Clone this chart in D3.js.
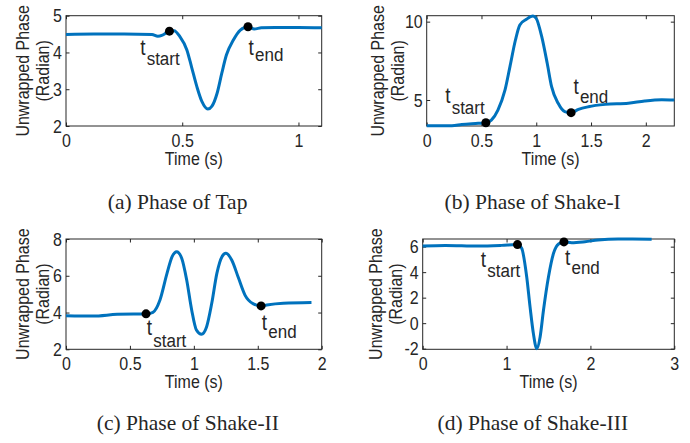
<!DOCTYPE html>
<html>
<head>
<meta charset="utf-8">
<script src="https://cdn.jsdelivr.net/npm/d3@7"></script>
<style>
  body { margin: 0; background: #fff; }
  svg text { fill: #262626; }
</style>
</head>
<body>
<div id="box"></div>
<script>
// ---- data ----
// (a) Tap
var tapTime  = [0, 0.12, 0.25, 0.37, 0.395, 0.415, 0.445, 0.465, 0.49, 0.52, 0.54, 0.563, 0.585, 0.61, 0.628, 0.65, 0.67, 0.69, 0.72, 0.75, 0.783, 0.81, 0.84, 0.9, 1.0, 1.1];
var tapPhase = [4.49, 4.50, 4.50, 4.49, 4.44, 4.47, 4.58, 4.59, 4.43, 4.07, 3.61, 3.07, 2.66, 2.46, 2.54, 2.89, 3.43, 3.93, 4.34, 4.61, 4.70, 4.64, 4.67, 4.68, 4.68, 4.67];
var tapMarks = [[0.445, 4.58], [0.783, 4.70]];

// (b) Shake-I
var shake1Time  = [0, 0.23, 0.32, 0.47, 0.54, 0.59, 0.65, 0.715, 0.76, 0.81, 0.85, 0.91, 0.97, 1.0, 1.05, 1.1, 1.14, 1.2, 1.26, 1.318, 1.385, 1.476, 1.63, 1.84, 1.99, 2.146, 2.26];
var shake1Phase = [3.36, 3.36, 3.43, 3.51, 3.55, 3.72, 4.36, 5.64, 7.13, 8.83, 9.79, 10.15, 10.36, 10.2, 9.04, 7.34, 5.85, 4.79, 4.26, 4.19, 4.40, 4.57, 4.72, 4.79, 4.94, 5.02, 5.0];
var shake1Marks = [[0.54, 3.55], [1.318, 4.19]];

// (c) Shake-II
var shake2Time  = [0, 0.21, 0.4, 0.53, 0.626, 0.68, 0.735, 0.79, 0.83, 0.866, 0.905, 0.944, 0.983, 1.02, 1.06, 1.1, 1.14, 1.18, 1.22, 1.25, 1.296, 1.35, 1.4, 1.466, 1.525, 1.57, 1.7, 1.92];
var shake2Phase = [3.83, 3.81, 3.90, 3.92, 3.92, 4.01, 4.68, 6.13, 7.04, 7.31, 6.95, 5.77, 4.14, 3.05, 2.82, 3.23, 4.50, 6.13, 7.04, 7.22, 6.86, 5.86, 4.95, 4.47, 4.36, 4.41, 4.50, 4.54];
var shake2Marks = [[0.626, 3.93], [1.526, 4.36]];

// (d) Shake-III
var shake3Time  = [0, 0.27, 0.66, 0.94, 1.13, 1.18, 1.24, 1.28, 1.32, 1.36, 1.40, 1.44, 1.50, 1.56, 1.62, 1.685, 1.776, 1.935, 2.09, 2.33, 2.73];
var shake3Phase = [6.05, 6.1, 6.05, 6.1, 6.16, 5.87, 3.64, 1.28, -0.82, -2.0, -1.08, 1.01, 3.64, 5.48, 6.21, 6.37, 6.31, 6.39, 6.52, 6.6, 6.58];
var shake3Marks = [[1.13, 6.16], [1.684, 6.37]];

// axis ranges and ticks
var tapX = [0, 1.1],    tapY = [2, 5];
var shake1X = [0, 2.26], shake1Y = [3.34, 10.38];
var shake2X = [0, 2],   shake2Y = [2, 8];
var shake3X = [0, 3],   shake3Y = [-2.05, 6.6];

var tapXTicks = [0, 0.5, 1],            tapYTicks = [2, 3, 4, 5];
var shake1XTicks = [0, 0.5, 1, 1.5, 2], shake1YTicks = [5, 10];
var shake2XTicks = [0, 0.5, 1, 1.5, 2], shake2YTicks = [2, 4, 6, 8];
var shake3XTicks = [0, 1, 2, 3],        shake3YTicks = [-2, 0, 2, 4, 6];

var captions = ["(a) Phase of Tap", "(b) Phase of Shake-I", "(c) Phase of Shake-II", "(d) Phase of Shake-III"];

// ---- layout (pixels) ----
var panels = [
    { t: tapTime, v: tapPhase, marks: tapMarks, xd: tapX, yd: tapY, xt: tapXTicks, yt: tapYTicks,
      box: [66, 15.7, 321.7, 126], ylab: 17, cap: [107.8, 209],
      lab: [[-29.3, 24, 34, "start"], [0.6, 28.3, 34, "end"]] },
    { t: shake1Time, v: shake1Phase, marks: shake1Marks, xd: shake1X, yd: shake1Y, xt: shake1XTicks, yt: shake1YTicks,
      box: [426.7, 15.7, 674.3, 126], ylab: 23, cap: [444.6, 209],
      lab: [[-40.7, -19.4, -8.4, "start"], [2.3, -18.7, -9.4, "end"]] },
    { t: shake2Time, v: shake2Phase, marks: shake2Marks, xd: shake2X, yd: shake2Y, xt: shake2XTicks, yt: shake2YTicks,
      box: [66, 239, 321.7, 349.3], ylab: 17, cap: [96.8, 430],
      lab: [[0.7, 21, 32.7, "start"], [0.7, 24, 32.3, "end"]] },
    { t: shake3Time, v: shake3Phase, marks: shake3Marks, xd: shake3X, yd: shake3Y, xt: shake3XTicks, yt: shake3YTicks,
      box: [422.7, 239, 674.3, 349.3], ylab: 21, cap: [437.6, 430],
      lab: [[-36.7, 22, 32.6, "start"], [1, 23, 32, "end"]] }
];

var svg = d3.select("#box")
    .append("svg")
    .attr("width", 690)
    .attr("height", 443);

var sans = "'Liberation Sans', Arial, Helvetica, sans-serif";
var serif = "'Liberation Serif', 'Times New Roman', serif";
var tickLen = 3.5;
var stretch = 1.12;  // the original figure's sans text is a bit taller than wide

// sans text, stretched vertically about its own anchor point
function label(parent, x, y, str, size, anchor, color) {
    return parent.append("text")
        .attr("transform", "translate(" + x + "," + y + ") scale(1," + stretch + ")")
        .attr("text-anchor", anchor || "start")
        .attr("font-family", sans)
        .attr("font-size", size)
        .attr("fill", color || "#262626")
        .text(str);
}

panels.forEach(function(p, i) {
    var x0 = p.box[0], y0 = p.box[1], x1 = p.box[2], y1 = p.box[3];
    var x = d3.scaleLinear().domain(p.xd).range([x0, x1]);
    var y = d3.scaleLinear().domain(p.yd).range([y1, y0]);
    var g = svg.append("g");

    // box
    g.append("rect")
        .attr("x", x0).attr("y", y0)
        .attr("width", x1 - x0).attr("height", y1 - y0)
        .attr("fill", "none")
        .attr("stroke", "#262626")
        .attr("stroke-width", 1);

    // bottom axis (ticks pointing in) and mirrored top ticks
    var xAxis = d3.axisBottom(x).tickValues(p.xt).tickSize(-tickLen).tickPadding(6)
        .tickFormat(d3.format("~g"));
    var xa = g.append("g").attr("transform", "translate(0," + y1 + ")").call(xAxis);
    var xTop = g.append("g").attr("transform", "translate(0," + y0 + ")")
        .call(d3.axisTop(x).tickValues(p.xt).tickSize(-tickLen).tickFormat(""));

    var yAxis = d3.axisLeft(y).tickValues(p.yt).tickSize(-tickLen).tickPadding(4)
        .tickFormat(function(d) { return d < 0 ? "-" + Math.abs(d) : d; });
    var ya = g.append("g").attr("transform", "translate(" + x0 + ",0)").call(yAxis);
    var yRight = g.append("g").attr("transform", "translate(" + x1 + ",0)")
        .call(d3.axisRight(y).tickValues(p.yt).tickSize(-tickLen).tickFormat(""));

    [xa, xTop, ya, yRight].forEach(function(a) {
        a.select(".domain").remove();
        a.selectAll(".tick line").attr("stroke", "#262626");
        a.selectAll("text")
            .attr("font-family", sans)
            .attr("font-size", 16)
            .attr("fill", "#262626")
            .attr("transform", "scale(1," + stretch + ")");
    });
    xa.selectAll("text").attr("y", 7).attr("dy", "0.71em");
    ya.selectAll("text").attr("dy", "0.34em");

    // x label
    label(g, (x0 + x1) / 2, y1 + 39, "Time (s)", 16, "middle");

    // y label (two lines)
    var yl = g.append("g")
        .attr("transform", "translate(" + (x0 - p.ylab) + "," + ((y0 + y1) / 2) + ") rotate(-90)");
    label(yl, 0, -20, "Unwrapped Phase", 16, "middle");
    label(yl, 0, 0, "(Radian)", 16, "middle");

    // the phase curve
    var line = d3.line()
        .x(function(d, k) { return x(p.t[k]); })
        .y(function(d) { return y(d); })
        .curve(d3.curveMonotoneX);

    g.append("path")
        .datum(p.v)
        .attr("d", line)
        .attr("fill", "none")
        .attr("stroke", "#0072BD")
        .attr("stroke-width", 3)
        .attr("stroke-linejoin", "round");

    // start / end markers
    g.selectAll(".mark")
        .data(p.marks)
        .enter()
        .append("circle")
        .attr("class", "mark")
        .attr("cx", function(d) { return x(d[0]); })
        .attr("cy", function(d) { return y(d[1]); })
        .attr("r", 4.5)
        .attr("fill", "#000");

    p.marks.forEach(function(m, k) {
        var l = p.lab[k];
        var mx = x(m[0]), my = y(m[1]);
        label(g, mx + l[0], my + l[1], "t", 19, "start", "#000");
        label(g, mx + l[0] + 6.5, my + l[2], l[3], 17, "start", "#000");
    });

    // caption
    svg.append("text")
        .attr("x", p.cap[0])
        .attr("y", p.cap[1])
        .attr("font-family", serif)
        .attr("font-size", 21.5)
        .attr("fill", "#000")
        .text(captions[i]);
});
</script>
</body>
</html>
